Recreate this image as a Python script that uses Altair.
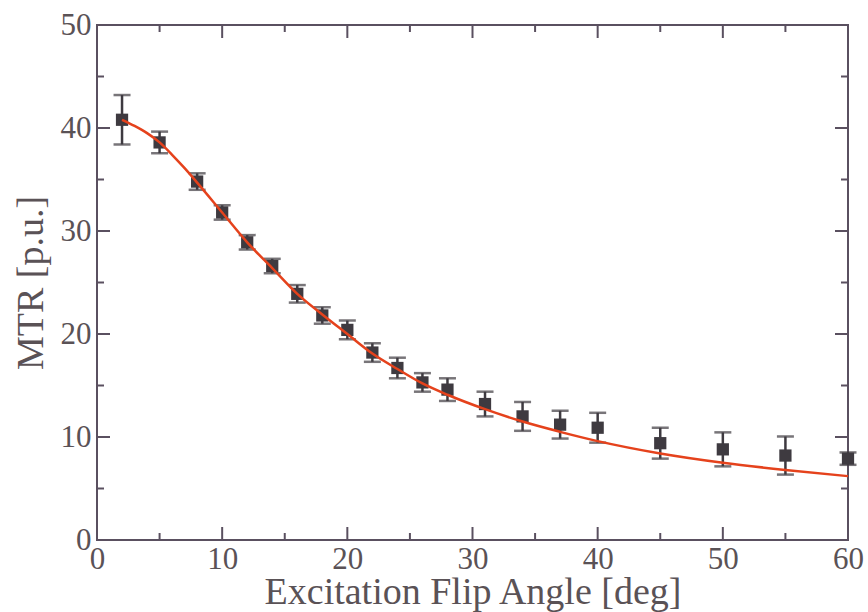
import altair as alt
import pandas as pd

# Measured data points (flip angle, MTR, error)
angle = [2, 5, 8, 10, 12, 14, 16, 18, 20, 22, 24, 26, 28, 31, 34, 37, 40, 45, 50, 55, 60]
mtr = [40.8, 38.6, 34.8, 31.8, 28.9, 26.6, 23.9, 21.8, 20.4, 18.2, 16.7, 15.3, 14.6, 13.2, 12.0, 11.2, 10.9, 9.4, 8.8, 8.2, 7.9]
err = [2.4, 1.05, 0.8, 0.7, 0.7, 0.7, 0.85, 0.8, 0.9, 0.9, 1.0, 0.9, 1.1, 1.2, 1.4, 1.35, 1.45, 1.5, 1.65, 1.85, 0.6]

# Fitted curve
fit_x = [2, 3, 4, 5, 6, 7, 8, 10, 12, 14, 16, 18, 20, 22, 24, 26, 28, 31, 34, 37, 40, 45, 50, 55, 60]
fit_y = [40.8, 40.2, 39.5, 38.6, 37.4, 36.1, 34.7, 31.8, 28.9, 26.4, 23.9, 21.9, 20.0, 18.1, 16.6, 15.2, 14.1, 12.7, 11.5, 10.5, 9.6, 8.4, 7.5, 6.8, 6.2]

# Tick positions
x_major = [10, 20, 30, 40, 50]
x_minor = [5, 15, 25, 35, 45, 55]
y_major = [10, 20, 30, 40]
y_minor = [5, 15, 25, 35, 45]
x_labels = [0, 10, 20, 30, 40, 50, 60]
y_labels = [0, 10, 20, 30, 40, 50]

W, H = 751, 515
FONT = "Liberation Serif"
AX = "#5a5060"
TXT = "#5a5256"
PT = "#3e3a40"

pts = pd.DataFrame({"x": angle, "y": mtr,
                    "lo": [m - e for m, e in zip(mtr, err)],
                    "hi": [m + e for m, e in zip(mtr, err)]})
fit = pd.DataFrame({"x": fit_x, "y": fit_y})

xscale = alt.Scale(domain=[0, 60], nice=False, zero=False)
yscale = alt.Scale(domain=[0, 50], nice=False, zero=False)
xaxis = alt.Axis(values=x_labels, title="Excitation Flip Angle [deg]", ticks=False,
                 domain=False, grid=False, labelFlush=False, labelPadding=4,
                 titleY=63, titleBaseline="alphabetic")
yaxis = alt.Axis(values=y_labels, title="MTR [p.u.]", ticks=False, domain=False,
                 grid=False, labelFlush=False, labelPadding=6, titlePadding=10)

X = lambda f="x": alt.X(f"{f}:Q", scale=xscale, axis=xaxis)
Y = lambda f="y": alt.Y(f"{f}:Q", scale=yscale, axis=yaxis)

layers = []

def xticks(vals, ln):
    d = pd.DataFrame({"x": vals})
    b = alt.Chart(d).mark_rule(color=AX, strokeWidth=2).encode(
        x=X(), y=alt.value(H), y2=alt.value(H - ln))
    t = alt.Chart(d).mark_rule(color=AX, strokeWidth=2).encode(
        x=X(), y=alt.value(0), y2=alt.value(ln))
    return [b, t]

def yticks(vals, ln):
    d = pd.DataFrame({"y": vals})
    l = alt.Chart(d).mark_rule(color=AX, strokeWidth=2).encode(
        y=Y(), x=alt.value(0), x2=alt.value(ln))
    r = alt.Chart(d).mark_rule(color=AX, strokeWidth=2).encode(
        y=Y(), x=alt.value(W), x2=alt.value(W - ln))
    return [l, r]

layers += xticks(x_major, 13) + xticks(x_minor, 7) + yticks(y_major, 13) + yticks(y_minor, 7)

base = alt.Chart(pts)
stems = base.mark_rule(color=PT, strokeWidth=2.5).encode(x=X(), y=Y("lo"), y2="hi:Q")
cap_lo = base.mark_tick(color=PT, orient="horizontal", size=17, thickness=2.5).encode(x=X(), y=Y("lo"))
cap_hi = base.mark_tick(color=PT, orient="horizontal", size=17, thickness=2.5).encode(x=X(), y=Y("hi"))
squares = base.mark_square(color=PT, size=150, opacity=1).encode(x=X(), y=Y())
curve = alt.Chart(fit).mark_line(color="#e5421c", strokeWidth=2.5, interpolate="monotone").encode(x=X(), y=Y())

layers += [stems, cap_lo, cap_hi, squares, curve]

chart = alt.layer(*layers).properties(
    width=W, height=H,
    autosize=alt.AutoSizeParams(type="none"),
    padding={"left": 97, "top": 25, "right": 20, "bottom": 72},
    background="white",
).configure_view(
    stroke=AX, strokeWidth=2
).configure_axis(
    labelFont=FONT, titleFont=FONT, labelFontSize=31, titleFontSize=38,
    labelColor=TXT, titleColor=TXT, titleFontWeight="normal"
)

chart.save("out.html", embed_options={"renderer": "svg", "actions": False})
